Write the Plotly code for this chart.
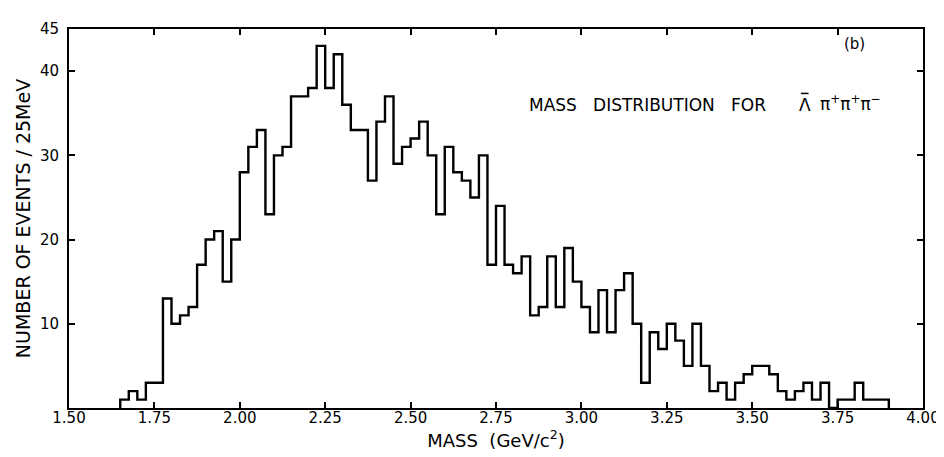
import plotly.graph_objects as go

# Histogram: bins of 25 MeV starting at 1.650 GeV
BIN_START = 1.650
BIN_WIDTH = 0.025
counts = [
    1, 2, 1, 3, 3, 13, 10, 11, 12, 17,
    20, 21, 15, 20, 28, 31, 33, 23, 30, 31,
    37, 37, 38, 43, 38, 42, 36, 33, 33, 27,
    34, 37, 29, 31, 32, 34, 30, 23, 31, 28,
    27, 25, 30, 17, 24, 17, 16, 18, 11, 12,
    18, 12, 19, 15, 12, 9, 14, 9, 14, 16,
    10, 3, 9, 7, 10, 8, 5, 10, 5, 2,
    3, 1, 3, 4, 5, 5, 4, 2, 1, 2,
    3, 1, 3, 0, 1, 1, 3, 1, 1, 1,
]
x_ticks = [1.50, 1.75, 2.00, 2.25, 2.50, 2.75, 3.00, 3.25, 3.50, 3.75, 4.00]
x_ticklabels = ["1.50", "1.75", "2.00", "2.25", "2.50", "2.75", "3.00", "3.25", "3.50", "3.75", "4.00"]
y_ticks = [10, 20, 30, 40, 45]
y_ticklabels = ["10", "20", "30", "40", "45"]

n = len(counts)
edges = [round(BIN_START + i * BIN_WIDTH, 4) for i in range(n + 1)]
xs = [edges[0]] + edges
ys = [0] + counts + [0]

FONT = "DejaVu Sans"
fig = go.Figure()
fig.add_trace(go.Scatter(
    x=xs, y=ys, mode="lines",
    line=dict(shape="hv", color="black", width=2.4),
    hoverinfo="skip", showlegend=False,
))

axis_common = dict(
    showline=True, linecolor="black", linewidth=2, mirror="ticks",
    ticks="inside", ticklen=6, tickwidth=2, tickcolor="black",
    showgrid=False, zeroline=False,
    tickfont=dict(family=FONT, size=15, color="black"),
)
fig.update_xaxes(range=[1.5, 4.0], tickvals=x_ticks, ticktext=x_ticklabels,
                 ticklabelstandoff=-5,
                 title=dict(text="MASS  (GeV/c<sup>2</sup>)", standoff=8,
                            font=dict(family=FONT, size=18, color="black")),
                 **axis_common)
fig.update_yaxes(range=[0, 45], tickvals=y_ticks, ticktext=y_ticklabels,
                 ticklabelstandoff=5,
                 title=dict(text="NUMBER OF EVENTS / 25MeV", standoff=4,
                            font=dict(family=FONT, size=19, color="black")),
                 **axis_common)

ANN_FONT = dict(family=FONT, size=17, color="black")
fig.add_annotation(x=0.92, y=0.96, xref="paper", yref="paper",
                   text="(b)", showarrow=False, xanchor="center", yanchor="middle",
                   font=dict(family=FONT, size=15, color="black"))
fig.add_annotation(x=0.5365, y=0.80, xref="paper", yref="paper",
                   text="MASS   DISTRIBUTION   FOR",
                   showarrow=False, xanchor="left", yanchor="middle",
                   font=ANN_FONT)
fig.add_annotation(x=0.8615, y=0.80, xref="paper", yref="paper",
                   text="\u039b",
                   showarrow=False, xanchor="center", yanchor="middle",
                   font=ANN_FONT)
# macron (bar) over the Lambda
fig.add_shape(type="line", xref="paper", yref="paper",
              x0=0.857, x1=0.866, y0=0.83, y1=0.83,
              line=dict(color="black", width=1.5))
fig.add_annotation(x=0.8775, y=0.805, xref="paper", yref="paper",
                   text="\u03c0<sup>+</sup>\u03c0<sup>+</sup>\u03c0<sup>\u2212</sup>",
                   showarrow=False, xanchor="left", yanchor="middle",
                   font=ANN_FONT)

fig.update_layout(
    width=944, height=457,
    margin=dict(l=61, r=24, t=20, b=57),
    paper_bgcolor="white", plot_bgcolor="white",
    font=dict(family=FONT, color="black"),
)
fig.write_html("out.html")
